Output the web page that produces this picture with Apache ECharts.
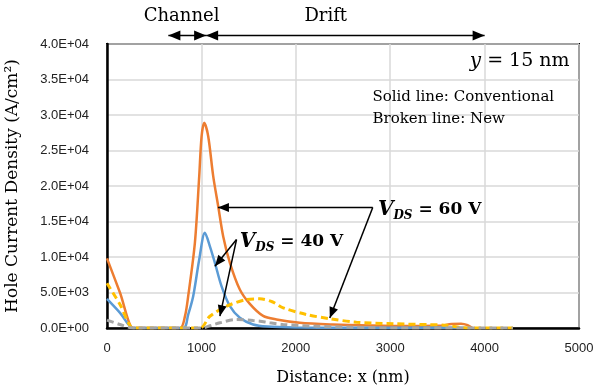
<!DOCTYPE html>
<html>
<head>
<meta charset="utf-8">
<script src="https://cdn.jsdelivr.net/npm/echarts@6/dist/echarts.min.js"></script>
<style>
  html, body { margin: 0; background: #fff; }
  #main { width: 598px; height: 390px; }
</style>
</head>
<body>
<div id="main"></div>
<script>
// Conventional, V_DS = 60 V (solid orange)
const xConv60 = [0, 138, 275, 300, 772, 825, 860, 931, 977, 1002, 1030, 1072, 1125, 1178, 1231, 1302, 1407, 1513, 1654, 1796, 2042, 2392, 2800, 3200, 3500, 3650, 3750, 3820, 3870]
const yConv60 = [9800, 4960, 0, 0, 0, 1600, 4480, 12000, 21400, 27000, 28900, 27000, 21400, 17150, 12900, 9180, 5420, 3400, 1700, 1200, 730, 490, 350, 280, 300, 550, 600, 400, 0]
// Conventional, V_DS = 40 V (solid blue)
const xConv40 = [0, 138, 275, 300, 808, 860, 913, 977, 1037, 1090, 1143, 1213, 1302, 1407, 1548, 1700, 2000, 2500, 3000, 3500, 3860]
const yConv40 = [4100, 2140, 0, 0, 0, 1900, 4480, 9650, 13400, 11500, 9180, 5890, 3070, 1440, 490, 200, 80, 40, 30, 60, 0]
// New, V_DS = 60 V (broken yellow)
const xNew60 = [0, 138, 275, 300, 984, 1090, 1267, 1478, 1619, 1750, 1866, 2113, 2360, 2642, 3030, 3400, 3600, 3750, 3850, 4300]
const yNew60 = [6300, 3310, 0, 0, 0, 1660, 3070, 4010, 4110, 3700, 2840, 1900, 1300, 820, 600, 480, 380, 50, 0, 0]
// New, V_DS = 40 V (broken grey)
const xNew40 = [0, 138, 275, 300, 1000, 1100, 1196, 1372, 1548, 1619, 1725, 1866, 2219, 2600, 3000, 4300]
const yNew40 = [1100, 490, 0, 0, 0, 350, 730, 1200, 1050, 960, 730, 490, 250, 120, 0, 0]

const xTicks = [0, 1000, 2000, 3000, 4000, 5000]
const yTicks = [0, 5000, 10000, 15000, 20000, 25000, 30000, 35000, 40000]

// annotation anchors, in data units
const channelSpan = [650, 1050]
const driftSpan = [1050, 4000]
const spanY = 41200
const v60From = [2815, 16970]
const v60Tips = [[1175, 16970], [2360, 1400]]
const v40From = [1372, 12460]
const v40Tips = [[1143, 8700], [1196, 1660]]

const pairs = (xs, ys) => xs.map((x, i) => [x, ys[i]])

const sci = (v) => {
  if (v === 0) return '0.0E+00'
  const e = Math.floor(Math.log10(v) + 1e-9)
  const m = v / Math.pow(10, e)
  return m.toFixed(1) + 'E+' + String(e).padStart(2, '0')
}

const chart = echarts.init(document.getElementById('main'))

const serif = 'DejaVu Serif'

const solid = (name, data, color) => ({
  name,
  type: 'line',
  data,
  smooth: 0.3,
  showSymbol: false,
  lineStyle: { color, width: 2.5 },
  z: 3
})

const broken = (name, data, color) => ({
  name,
  type: 'line',
  data,
  smooth: 0.3,
  showSymbol: false,
  lineStyle: { color, width: 3, type: [7, 4] },
  z: 4
})

chart.setOption({
  animation: false,
  backgroundColor: '#fff',
  grid: {
    left: 107,
    right: 19,
    top: 44,
    bottom: 62,
    outerBoundsMode: 'none',
    containLabel: false,
    show: true,
    borderColor: '#000',
    borderWidth: 2
  },
  xAxis: {
    type: 'value',
    min: xTicks[0],
    max: xTicks[xTicks.length - 1],
    interval: 1000,
    name: 'Distance: x (nm)',
    nameLocation: 'middle',
    nameGap: 42,
    nameTextStyle: { fontFamily: serif, fontSize: 16, color: '#000' },
    axisLine: { lineStyle: { color: '#000', width: 2.5 } },
    axisTick: { show: false },
    axisLabel: { fontFamily: 'Liberation Sans', fontSize: 13, color: '#222', margin: 14, formatter: (v) => String(v) },
    splitLine: { lineStyle: { color: '#d9d9d9', width: 1.5 } }
  },
  yAxis: {
    type: 'value',
    min: yTicks[0],
    max: yTicks[yTicks.length - 1],
    interval: 5000,
    name: 'Hole Current Density (A/cm²)',
    nameLocation: 'middle',
    nameRotate: 90,
    nameGap: 86,
    nameTextStyle: { fontFamily: serif, fontSize: 17, color: '#000' },
    axisLine: { show: true, lineStyle: { color: '#000', width: 2.5 } },
    axisTick: { show: false },
    axisLabel: { fontFamily: 'Liberation Sans', fontSize: 13, color: '#222', margin: 18, formatter: sci },
    splitLine: { lineStyle: { color: '#d9d9d9', width: 1.5 } }
  },
  series: [
    solid('Conventional 60 V', pairs(xConv60, yConv60), '#ED7D31'),
    solid('Conventional 40 V', pairs(xConv40, yConv40), '#5B9BD5'),
    broken('New 60 V', pairs(xNew60, yNew60), '#FFC000'),
    broken('New 40 V', pairs(xNew40, yNew40), '#A5A5A5')
  ]
})

const px = (p) => chart.convertToPixel({ gridIndex: 0 }, p)

const head = (tip, from, L = 11, W = 4.5) => {
  const dx = tip[0] - from[0]
  const dy = tip[1] - from[1]
  const len = Math.hypot(dx, dy)
  const ux = dx / len
  const uy = dy / len
  const bx = tip[0] - ux * L
  const by = tip[1] - uy * L
  return {
    type: 'polygon',
    z: 100,
    shape: { points: [tip, [bx - uy * W, by + ux * W], [bx + uy * W, by - ux * W]] },
    style: { fill: '#000' }
  }
}

const seg = (a, b) => ({
  type: 'line',
  z: 100,
  shape: { x1: a[0], y1: a[1], x2: b[0], y2: b[1] },
  style: { stroke: '#000', lineWidth: 1.5 }
})

const text = (p, str, opts) => ({
  type: 'text',
  z: 101,
  x: p[0],
  y: p[1],
  style: Object.assign({ text: str, fill: '#000', fontFamily: serif, verticalAlign: 'middle' }, opts)
})

const graphic = []

// Channel / Drift spans above the plot
const c0 = px([channelSpan[0], spanY])
const c1 = px([channelSpan[1], spanY])
const d0 = px([driftSpan[0], spanY])
const d1 = px([driftSpan[1], spanY])
graphic.push(seg(c0, c1), head(c0, c1, 12, 5), head(c1, c0, 12, 5))
graphic.push(seg(d0, d1), head(d0, d1, 12, 5), head(d1, d0, 12, 5))
graphic.push(text(px([790, 43900]), 'Channel', { fontSize: 18, align: 'center' }))
graphic.push(text(px([2317, 43900]), 'Drift', { fontSize: 18, align: 'center' }))

// notes in the upper right
graphic.push(text(px([4900, 37540]), '{i|y}{n| = 15 nm}', {
  align: 'right',
  rich: {
    i: { fontFamily: serif, fontStyle: 'italic', fontSize: 20, fill: '#000' },
    n: { fontFamily: serif, fontSize: 19, fill: '#000' }
  }
}))
graphic.push(text(px([2812, 32460]), 'Solid line: Conventional', { fontSize: 15, align: 'left' }))
graphic.push(text(px([2812, 29370]), 'Broken line: New', { fontSize: 15, align: 'left' }))

// V_DS callouts
const vdsRich = {
  v: { fontFamily: serif, fontStyle: 'italic', fontWeight: 'bold', fontSize: 20, fill: '#000', lineHeight: 24 },
  s: { fontFamily: serif, fontStyle: 'italic', fontWeight: 'bold', fontSize: 12, fill: '#000', lineHeight: 14, verticalAlign: 'bottom' },
  n: { fontFamily: serif, fontWeight: 'bold', fontSize: 17, fill: '#000', lineHeight: 24 }
}
const a60 = px(v60From)
v60Tips.forEach((t) => {
  const p = px(t)
  graphic.push(seg(a60, p), head(p, a60))
})
graphic.push(text(px([2870, 16700]), '{v|V}{s|DS}{n| = 60 V}', { align: 'left', rich: vdsRich }))

const a40 = px(v40From)
v40Tips.forEach((t) => {
  const p = px(t)
  graphic.push(seg(a40, p), head(p, a40))
})
graphic.push(text(px([1407, 12180]), '{v|V}{s|DS}{n| = 40 V}', { align: 'left', rich: vdsRich }))

chart.setOption({ graphic })
</script>
</body>
</html>
